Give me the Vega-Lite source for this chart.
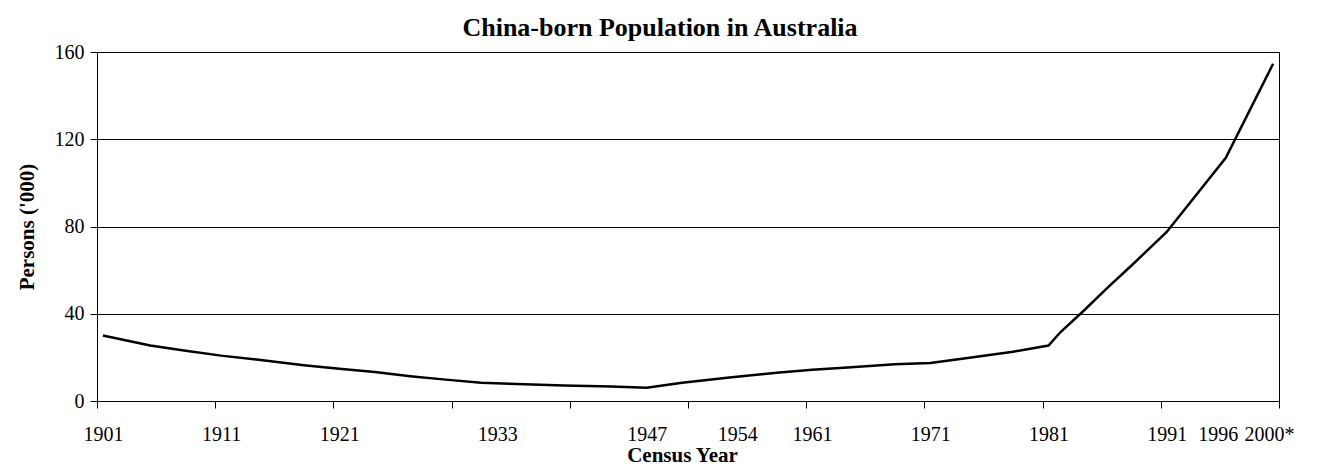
{
  "$schema": "https://vega.github.io/schema/vega-lite/v6.json",
  "autosize": "none",
  "width": 1182,
  "height": 349,
  "padding": {"left": 97, "top": 52, "right": 38, "bottom": 64},
  "background": "white",
  "title": {
    "text": "China-born Population in Australia",
    "font": "Liberation Serif",
    "fontSize": 26,
    "fontWeight": "bold",
    "color": "black",
    "anchor": "middle",
    "frame": "group",
    "dx": -28,
    "offset": 1
  },
  "data": {
    "values": [
      {"year": 1901, "persons": 30.0},
      {"year": 1905, "persons": 25.4},
      {"year": 1908, "persons": 23.0},
      {"year": 1911, "persons": 20.8},
      {"year": 1914, "persons": 19.0},
      {"year": 1918, "persons": 16.4},
      {"year": 1921, "persons": 14.8},
      {"year": 1924, "persons": 13.3},
      {"year": 1927, "persons": 11.4},
      {"year": 1930, "persons": 9.8},
      {"year": 1933, "persons": 8.4},
      {"year": 1936, "persons": 7.8},
      {"year": 1940, "persons": 7.1},
      {"year": 1944, "persons": 6.6},
      {"year": 1947, "persons": 6.1},
      {"year": 1950, "persons": 8.4},
      {"year": 1954, "persons": 10.8},
      {"year": 1958, "persons": 12.9},
      {"year": 1961, "persons": 14.3},
      {"year": 1964, "persons": 15.4},
      {"year": 1968, "persons": 16.9},
      {"year": 1971, "persons": 17.4},
      {"year": 1974, "persons": 19.6},
      {"year": 1978, "persons": 22.6},
      {"year": 1981, "persons": 25.4},
      {"year": 1982, "persons": 31.5},
      {"year": 1984, "persons": 41.5},
      {"year": 1986, "persons": 52.0},
      {"year": 1988, "persons": 62.0},
      {"year": 1991, "persons": 77.5},
      {"year": 1996, "persons": 111.5},
      {"year": 2000, "persons": 154.6}
    ]
  },
  "mark": {"type": "line", "color": "black", "strokeWidth": 2.5},
  "encoding": {
    "x": {
      "field": "year",
      "type": "quantitative",
      "scale": {"domain": [1900.5, 2000.5], "nice": false, "zero": false},
      "axis": {
        "title": "Census Year",
        "values": [1900.5, 1910.5, 1920.5, 1930.5, 1940.5, 1950.5, 1960.5, 1970.5, 1980.5, 1990.5, 2000.5, 1901, 1911, 1921, 1933, 1947, 1954, 1961, 1971, 1981, 1991, 1996, 2000],
        "labelExpr": "datum.value % 1 != 0 ? '' : (datum.value == 2000 ? '2000*' : format(datum.value, 'd'))",
        "labelOverlap": false,
        "labelFlush": false,
        "labelBound": false,
        "labelFont": "Liberation Serif",
        "labelFontSize": 20,
        "labelColor": "black",
        "labelPadding": 16,
        "labelOffset": {"expr": "datum.value == 1933 ? 16 : datum.value == 1954 ? 8 : datum.value == 1996 ? -8 : datum.value == 2000 ? -4 : 0"},
        "tickColor": "black",
        "tickSize": 7,
        "tickOpacity": {"condition": {"test": "datum.value % 1 != 0", "value": 1}, "value": 0},
        "domainColor": "black",
        "grid": false,
        "titleFont": "Liberation Serif",
        "titleFontSize": 21,
        "titleFontWeight": "bold",
        "titleColor": "black",
        "titlePadding": 0,
        "titleX": 585
      }
    },
    "y": {
      "field": "persons",
      "type": "quantitative",
      "scale": {"domain": [0, 160], "nice": false},
      "axis": {
        "title": "Persons ('000)",
        "values": [0, 40, 80, 120, 160],
        "format": "d",
        "labelFont": "Liberation Serif",
        "labelFontSize": 20,
        "labelColor": "black",
        "labelPadding": 6,
        "tickColor": "black",
        "tickSize": 7,
        "domainColor": "black",
        "grid": true,
        "gridColor": "black",
        "gridOpacity": 1,
        "gridWidth": 1,
        "titleFont": "Liberation Serif",
        "titleFontSize": 21,
        "titleFontWeight": "bold",
        "titleColor": "black",
        "titlePadding": 17
      }
    }
  },
  "config": {
    "view": {"stroke": "black", "strokeWidth": 1}
  }
}
